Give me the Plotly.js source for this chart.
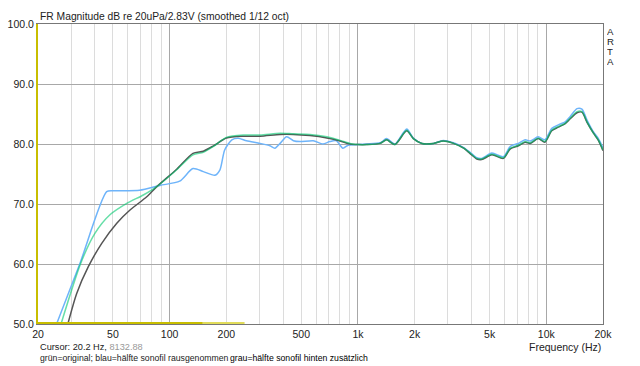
<!DOCTYPE html>
<html>
<head>
<meta charset="utf-8">
<script src="https://cdn.plot.ly/plotly-3.0.1.min.js"></script>
<style>html,body{margin:0;padding:0;background:#fff}#chart{width:640px;height:366px}</style>
</head>
<body>
<div id="chart"></div>
<script>
// grün = original
const greenFreq = [26.5,33.7,40.1,48.2,59.2,72.5,85.5,109,133,151,171,200,246,302,386,454,556,684,804,906,1007,1112,1313,1418,1572,1814,1968,2183,2520,2830,3215,3640,3940,4276,4540,5140,5920,6440,7110,7720,8220,9060,9830,10690,11580,12600,13400,14560,15460,16450,17800,18900,20000];
const greenDb   = [50,60.1,65.1,68.2,70.1,71.5,72.9,75.7,78.2,78.6,79.6,81.1,81.5,81.5,81.8,81.7,81.6,81.2,80.6,80.1,79.9,79.9,80.1,80.7,79.9,82.3,80.9,80.1,80.1,80.5,80.1,79.3,78.5,77.6,77.5,78.3,77.7,79.3,79.8,80.4,80.2,80.95,80.4,82.3,82.9,83.45,84.3,85.4,85.4,83.7,81.8,80.7,79];

// blau = hälfte sonofil rausgenommen
const blueFreq = [25.1,33.4,46.3,50.3,69.3,88.8,113,133,151,174,185,196,214,231,256,302,341,362,386,418,454,492,579,651,708,767,832,886,1007,1112,1313,1418,1572,1814,1968,2183,2520,2830,3215,3640,3940,4276,4540,5140,5920,6440,7110,7720,8220,9060,9830,10690,11580,12600,13400,14560,15460,16450,17800,18900,20000];
const blueDb   = [50,60.1,72.05,72.2,72.3,73.1,73.8,75.9,75.4,74.8,75.7,79,80.7,80.95,80.55,80.1,79.7,79.3,80.1,81.2,80.55,80.4,80.55,80.0,80.4,80.55,79.3,79.8,79.9,80.0,80.2,80.9,80.0,82.5,81.0,80.1,80.1,80.6,80.2,79.4,78.6,77.7,77.6,78.5,77.9,79.6,80.1,80.7,80.5,81.2,80.7,82.6,83.2,83.7,84.6,85.9,85.8,84.0,82.0,80.9,79.4];

// grau = hälfte sonofil hinten zusätzlich
const grayFreq = [28.8,32.1,37.0,43.6,52.4,61.6,75.6,85.5,109,133,151,171,200,246,302,386,454,556,684,804,906,1007,1112,1313,1418,1572,1814,1968,2183,2520,2830,3215,3640,3940,4276,4540,5140,5920,6440,7110,7720,8220,9060,9830,10690,11580,12600,13400,14560,15460,16450,17800,18900,20000];
const grayDb   = [50,55.1,59.55,63.45,66.8,69,71.2,72.9,75.8,78.45,78.8,79.7,81.0,81.3,81.3,81.6,81.6,81.4,81.0,80.5,80.0,79.9,79.9,80.1,80.7,79.9,82.2,80.9,80.1,80.1,80.5,80.1,79.3,78.4,77.5,77.4,78.2,77.6,79.2,79.7,80.3,80.1,80.9,80.3,82.2,82.8,83.4,84.2,85.2,85.3,83.6,81.8,80.6,78.9];

// cursor / marker band on the bottom edge
const cursorFreq = [20,150];
const cursorFreq2 = [150,250];
const cursorDb = [50.15,50.15];

const tickVals = [20,30,40,50,60,70,80,90,100,200,300,400,500,600,700,800,900,1000,2000,3000,4000,5000,6000,7000,8000,9000,10000,20000];
const tickLabelMap = {20:'20',50:'50',100:'100',200:'200',500:'500',1000:'1k',2000:'2k',5000:'5k',10000:'10k',20000:'20k'};
const tickText = tickVals.map(v => tickLabelMap[v] || '');
const decadeVals = [100,1000,10000];
const yTicks = [50,60,70,80,90,100];
const artaLetters = ['A','R','T','A'];

const lg = v => Math.log10(v);
const font = 'Liberation Sans, Arial, sans-serif';
const sm = 0.7;

const traces = [
  {x: blueFreq, y: blueDb, mode:'lines', line:{color:'rgb(110,180,250)', width:1.5, shape:'spline', smoothing:sm}, hoverinfo:'skip'},
  {x: grayFreq, y: grayDb, mode:'lines', line:{color:'rgb(85,85,85)', width:1.5, shape:'spline', smoothing:sm}, hoverinfo:'skip'},
  {x: greenFreq, y: greenDb, mode:'lines', line:{color:'rgba(0,200,110,0.6)', width:1.5, shape:'spline', smoothing:sm}, hoverinfo:'skip'},
  {x: cursorFreq, y: cursorDb, mode:'lines', line:{color:'rgb(200,190,0)', width:2}, hoverinfo:'skip', cliponaxis:false},
  {x: cursorFreq2, y: cursorDb, mode:'lines', line:{color:'rgb(225,220,90)', width:2}, hoverinfo:'skip', cliponaxis:false},
  {x: [20,20], y: [50,100], xaxis:'x', yaxis:'y2', mode:'lines', line:{color:'rgba(0,0,0,0)', width:0}, hoverinfo:'skip'},
  {x: [20,20000], y: [50,50], xaxis:'x2', mode:'lines', line:{color:'rgba(0,0,0,0)', width:0}, hoverinfo:'skip'}
];

const annotations = [
  {text:'Frequency (Hz)', xref:'paper', yref:'paper', x:1, y:-(347-324)/300, xanchor:'right', yanchor:'middle', showarrow:false, font:{family:font, size:10.5, color:'#222'}},
  {text:'Cursor: 20.2 Hz, <span style="color:#999">8132.88</span>', xref:'paper', yref:'paper', x:0, y:-(347-324)/300, xanchor:'left', yanchor:'middle', showarrow:false, font:{family:font, size:9.2, color:'#222'}},
  {text:'grün=original; blau=hälfte sonofil rausgenommen', xref:'paper', yref:'paper', x:0, y:-(358-324)/300, xanchor:'left', yanchor:'middle', showarrow:false, font:{family:font, size:8.7, color:'#222'}},
  {text:'grau=hälfte sonofil hinten zusätzlich', xref:'paper', yref:'paper', x:190/565, y:-(358-324)/300, xanchor:'left', yanchor:'middle', showarrow:false, font:{family:font, size:8.7, color:'#000'}}
];
artaLetters.forEach((ch, i) => {
  annotations.push({text:ch, xref:'paper', yref:'paper', x:1.005, y:1 - (7 + i*10)/300, xanchor:'left', yanchor:'middle', showarrow:false, height:10, borderpad:0, font:{family:font, size:9.6, color:'#222'}});
});

const layout = {
  width: 640, height: 366,
  margin: {l:38, r:37, t:24, b:42},
  paper_bgcolor:'#fff', plot_bgcolor:'#fff',
  showlegend:false,
  title: {text:'FR Magnitude dB re 20uPa/2.83V (smoothed 1/12 oct)', x:40/640, xanchor:'left', xref:'container', y:1-16/366, yanchor:'middle', yref:'container', font:{family:font, size:10.3, color:'#222'}},
  xaxis: {
    type:'log', range:[lg(20), lg(20000)], tickmode:'array', tickvals:tickVals, ticktext:tickText,
    showgrid:true, gridcolor:'#dcdcdc', gridwidth:1, zeroline:false,
    showline:true, linecolor:'#777', linewidth:1, mirror:true, ticks:'',
    tickfont:{family:font, size:10.5, color:'#222'}
  },
  xaxis2: {
    type:'log', range:[lg(20), lg(20000)], overlaying:'x', tickmode:'array', tickvals:decadeVals,
    showticklabels:false, showgrid:true, gridcolor:'#a8a8a8', gridwidth:1, showline:false, ticks:'', zeroline:false
  },
  yaxis: {
    range:[50,100], tickmode:'array', tickvals:yTicks, tickformat:'.1f',
    showgrid:true, gridcolor:'#a8a8a8', gridwidth:1, zeroline:false,
    showline:true, linecolor:'rgb(200,190,0)', linewidth:2, ticks:'',
    tickfont:{family:font, size:10.5, color:'#222'}
  },
  yaxis2: {
    range:[50,100], overlaying:'y', side:'right', showticklabels:false, showgrid:false,
    showline:true, linecolor:'#777', linewidth:1, ticks:'', zeroline:false
  },
  annotations: annotations
};

Plotly.newPlot('chart', traces, layout, {displayModeBar:false, staticPlot:true});
</script>
</body>
</html>
